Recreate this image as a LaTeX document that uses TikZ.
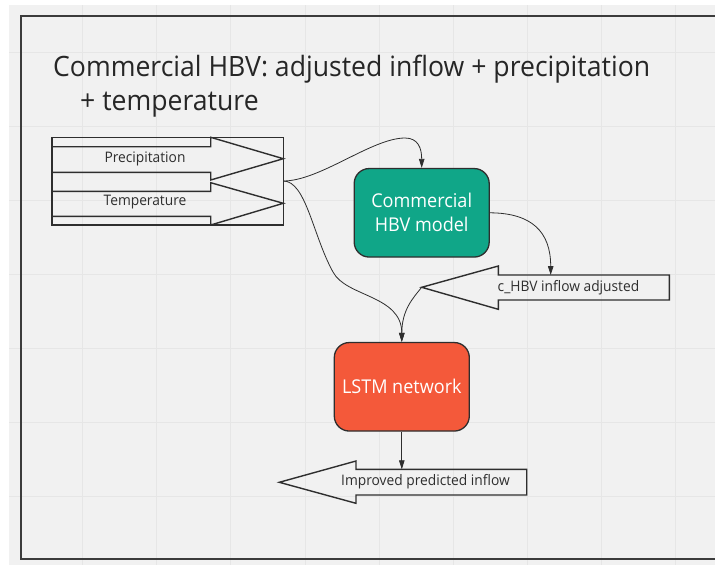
\documentclass[tikz,border=0pt]{standalone}
\usepackage{fontspec}
\setmainfont{Open Sans}[FakeStretch=0.95]
\usetikzlibrary{arrows.meta}
\definecolor{canvas}{HTML}{F1F1F1}
\definecolor{gridline}{HTML}{E6E6E6}
\definecolor{framec}{HTML}{3C3C3C}
\definecolor{ink}{HTML}{2E2E2E}
\definecolor{hbvgreen}{RGB}{16,166,136}
\definecolor{lstmred}{RGB}{244,89,58}
\begin{document}
\begin{tikzpicture}[x=1pt,y=-1pt,
  shapeline/.style={draw=ink, line width=1.4pt, line join=miter},
  procbox/.style={draw=ink, line width=1.3pt, rounded corners=15pt},
  boxtext/.style={text=white, font=\fontsize{19}{24}\selectfont, align=center},
  smalltext/.style={text=ink, font=\fontsize{14.5}{17}\selectfont, inner sep=0pt},
  titletext/.style={text=black!85, font=\fontsize{28}{34}\selectfont, inner sep=0pt, anchor=base west},
  link/.style={draw=ink, line width=0.8pt, -{Triangle[length=9pt,width=5.5pt]}}]
\useasboundingbox (0,0) rectangle (715,565);
\fill[white] (0,0) rectangle (715,565);
\fill[canvas] (9,5) rectangle (715,565);
% background grid
\foreach \gx in {82.7,156.7,230.7,305,379,453,527,601,675}
  \draw[gridline, line width=0.8pt] (\gx,5) -- (\gx,565);
\foreach \gy in {52,126,200,274,348,422,496}
  \draw[gridline, line width=0.8pt] (9,\gy) -- (715,\gy);
% frame
\draw[framec, line width=1.8pt] (716,15.7) -- (21,15.7) -- (21,559) -- (716,559);
% title
\node[titletext] (title1) at (53,76) {Commercial HBV: adjusted inflow + precipitation};
\node[titletext] (title2) at (80,110) {+ temperature};

% input block with two block arrows
\draw[shapeline] (52,137.3) rectangle (283.3,225);
\draw[shapeline] (52,146.7) -- (210.7,146.7) -- (210.7,137.3) -- (283.3,158.7)
  -- (210.7,180) -- (210.7,172.3) -- (52,172.3);
\draw[shapeline] (52,191.3) -- (210.7,191.3) -- (210.7,182.7) -- (283.3,203.3)
  -- (210.7,225) -- (210.7,216.3) -- (52,216.3);
\node[smalltext] (precip) at (145,158.5) {Precipitation};
\node[smalltext] (temp) at (145,202.5) {Temperature};
\coordinate (inputs) at (283.3,181);

% process boxes
\node[procbox, fill=hbvgreen, minimum width=135pt, minimum height=88.5pt, boxtext]
  (hbv) at (421.7,212.8) {Commercial\\HBV model};
\node[procbox, fill=lstmred, minimum width=135pt, minimum height=88.5pt, boxtext]
  (lstm) at (401.8,386.8) {LSTM network};

% c_HBV output arrow (pointing left)
\draw[shapeline] (669.3,275) -- (498.3,275) -- (498.3,266) -- (421.7,287.3)
  -- (498.3,309.3) -- (498.3,300) -- (669.3,300) -- cycle;
\node[smalltext] (chbv) at (568.5,287.5) {c\_HBV inflow adjusted};
\coordinate (chbvtip) at (421.7,287.3);
\coordinate (chbvtop) at (550.7,275);

% improved prediction arrow (pointing left)
\draw[shapeline] (526.7,469.3) -- (356,469.3) -- (356,461) -- (279.3,482.3)
  -- (356,503.3) -- (356,495) -- (526.7,495) -- cycle;
\node[smalltext] (improved) at (425.5,481.5) {Improved predicted inflow};
\coordinate (improvedtop) at (401.8,469.3);

% connectors
\draw[link] (inputs) .. controls (320,181) and (372,138) .. (405,138)
  .. controls (418,138) and (421.7,148) .. (hbv.north -| 421.7,0);
\draw[link] (inputs) .. controls (306,181) and (313,236) .. (333,272)
  .. controls (346,297) and (401.8,295) .. (lstm.north);
\draw[link] (chbvtip) .. controls (413,298) and (401.8,310) .. (lstm.north);
\draw[link] (hbv.east) .. controls (532,213) and (550.7,232) .. (chbvtop);
\draw[link] (lstm.south) -- (improvedtop);
\end{tikzpicture}
\end{document}
